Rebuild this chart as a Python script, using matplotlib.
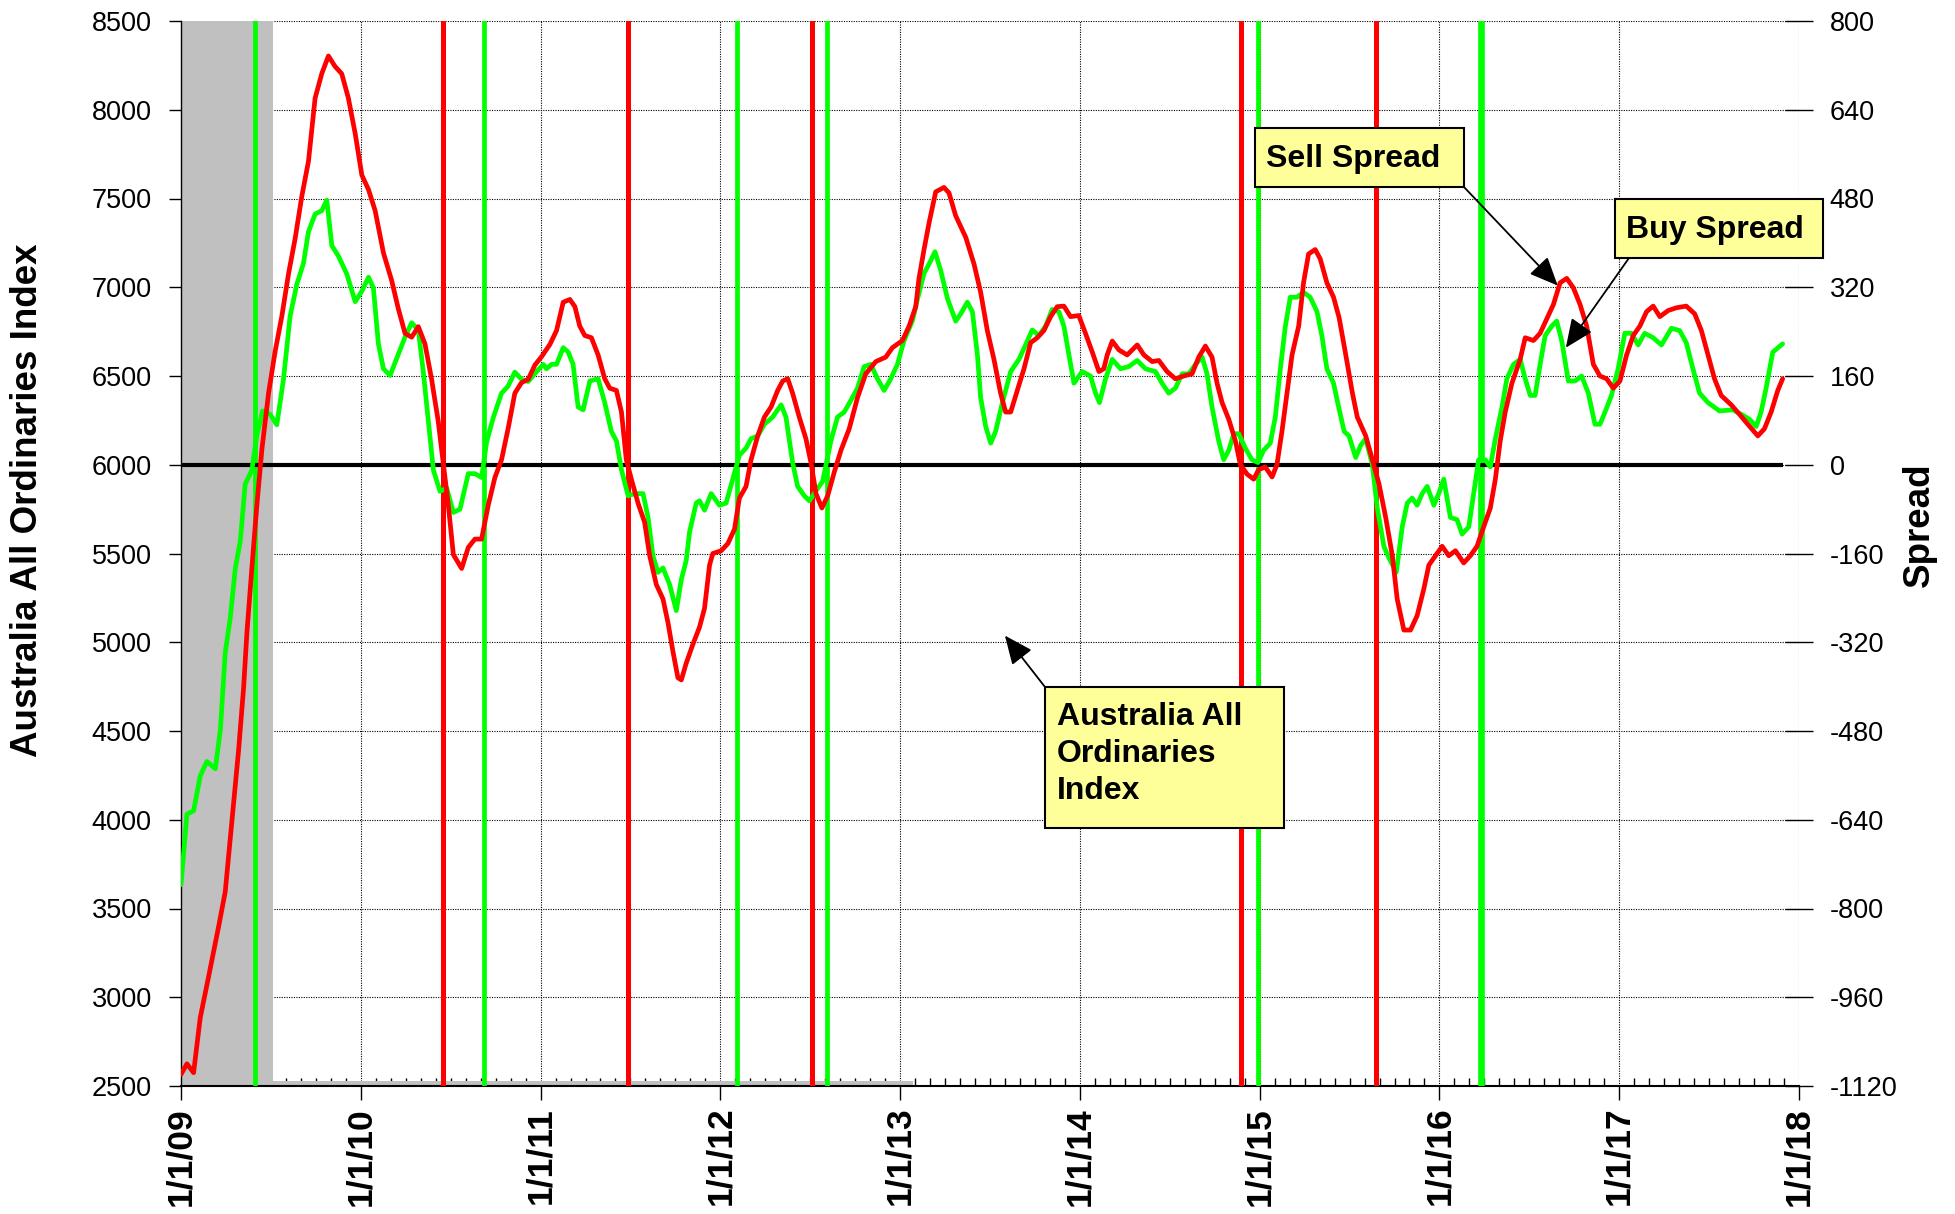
import matplotlib
matplotlib.use('Agg')
import matplotlib.pyplot as plt
from matplotlib.patches import Rectangle

plt.rcParams['font.family'] = ['Liberation Sans', 'DejaVu Sans']

# ---------------- data (x in years since 1/1/2009) ----------------
sell_t = [0.000, 0.033, 0.070, 0.107, 0.154, 0.209, 0.246, 0.283, 0.320, 0.348, 0.367, 0.394, 0.422, 0.450,
          0.487, 0.524, 0.561, 0.598, 0.635, 0.672, 0.709, 0.746, 0.783, 0.820, 0.857, 0.894, 0.931, 0.969,
          1.006, 1.043, 1.080, 1.126, 1.172, 1.209, 1.246, 1.283, 1.320, 1.357, 1.394, 1.431, 1.459, 1.487,
          1.515, 1.561, 1.598, 1.635, 1.672, 1.709, 1.746, 1.783, 1.820, 1.857, 1.894, 1.931, 1.969, 2.006,
          2.052, 2.089, 2.126, 2.163, 2.191, 2.218, 2.246, 2.283, 2.320, 2.357, 2.385, 2.422, 2.450, 2.477,
          2.505, 2.542, 2.579, 2.607, 2.644, 2.681, 2.709, 2.736, 2.764, 2.783, 2.810, 2.847, 2.884, 2.912,
          2.940, 2.958, 3.005, 3.042, 3.079, 3.106, 3.143, 3.171, 3.208, 3.245, 3.282, 3.319, 3.347, 3.375,
          3.402, 3.439, 3.476, 3.504, 3.532, 3.565, 3.597, 3.634, 3.671, 3.717, 3.763, 3.809, 3.865, 3.920,
          3.957, 4.013, 4.050, 4.087, 4.105, 4.133, 4.161, 4.198, 4.244, 4.272, 4.309, 4.365, 4.411, 4.448,
          4.485, 4.522, 4.559, 4.587, 4.615, 4.652, 4.689, 4.726, 4.763, 4.800, 4.837, 4.874, 4.911, 4.948,
          4.994, 5.031, 5.069, 5.106, 5.133, 5.152, 5.180, 5.217, 5.263, 5.319, 5.356, 5.402, 5.439, 5.485,
          5.531, 5.578, 5.624, 5.661, 5.698, 5.735, 5.763, 5.791, 5.828, 5.865, 5.893, 5.930, 5.967, 5.994,
          6.031, 6.069, 6.096, 6.124, 6.152, 6.180, 6.217, 6.244, 6.272, 6.309, 6.337, 6.374, 6.411, 6.442,
          6.479, 6.516, 6.543, 6.590, 6.627, 6.664, 6.701, 6.738, 6.765, 6.802, 6.839, 6.876, 6.913, 6.941,
          6.978, 7.015, 7.052, 7.089, 7.135, 7.172, 7.209, 7.246, 7.283, 7.311, 7.338, 7.366, 7.403, 7.449,
          7.477, 7.523, 7.560, 7.597, 7.634, 7.671, 7.708, 7.745, 7.782, 7.819, 7.856, 7.893, 7.930, 7.967,
          8.004, 8.041, 8.078, 8.115, 8.152, 8.189, 8.226, 8.272, 8.318, 8.373, 8.420, 8.457, 8.494, 8.530,
          8.567, 8.623, 8.669, 8.715, 8.771, 8.808, 8.845, 8.882, 8.909]
sell_spread = [-1099, -1080, -1096, -997, -922, -833, -770, -643, -516, -403, -301, -187, -73, 28,
               129, 205, 268, 344, 408, 484, 547, 661, 705, 737, 718, 705, 661, 597,
               522, 496, 458, 382, 332, 281, 237, 230, 249, 218, 154, 78, 3, -73,
               -162, -187, -149, -134, -134, -73, -23, 9, 66, 129, 148, 154, 180, 195,
               217, 242, 293, 298, 285, 250, 233, 229, 198, 155, 138, 134, 95, 9,
               -26, -69, -104, -164, -216, -242, -285, -336, -384, -388, -358, -324, -293, -259,
               -181, -160, -155, -142, -116, -60, -39, 9, 52, 86, 104, 134, 151, 155,
               129, 86, 47, 4, -52, -78, -56, -13, 26, 65, 121, 164, 186, 194,
               211, 224, 250, 285, 336, 388, 436, 492, 500, 490, 449, 410, 362, 311,
               242, 190, 129, 95, 95, 134, 173, 220, 229, 242, 267, 285, 286, 267,
               269, 237, 203, 168, 173, 198, 223, 207, 198, 216, 198, 186, 188, 168,
               155, 160, 164, 194, 214, 194, 147, 112, 82, 43, 0, -17, -26, -9,
               -4, -22, 0, 60, 129, 198, 250, 328, 380, 388, 371, 328, 302, 265,
               198, 129, 86, 52, 9, -35, -95, -164, -242, -298, -298, -272, -224, -181,
               -164, -147, -164, -155, -177, -164, -147, -112, -78, -26, 43, 95, 147, 190,
               229, 224, 237, 263, 289, 328, 336, 319, 289, 250, 181, 160, 155, 138,
               151, 198, 233, 250, 276, 286, 267, 278, 283, 286, 272, 242, 198, 155,
               125, 108, 91, 73, 52, 65, 95, 134, 155]

buy_t = [0.000, 0.033, 0.070, 0.107, 0.144, 0.191, 0.219, 0.246, 0.274, 0.302, 0.330, 0.357, 0.394, 0.422,
         0.454, 0.496, 0.533, 0.570, 0.607, 0.644, 0.681, 0.709, 0.746, 0.783, 0.811, 0.839, 0.876, 0.922,
         0.969, 1.006, 1.043, 1.070, 1.098, 1.126, 1.163, 1.200, 1.246, 1.283, 1.320, 1.348, 1.376, 1.404,
         1.441, 1.478, 1.515, 1.552, 1.598, 1.635, 1.672, 1.700, 1.737, 1.783, 1.820, 1.857, 1.894, 1.931,
         1.978, 2.015, 2.033, 2.061, 2.089, 2.126, 2.154, 2.181, 2.209, 2.237, 2.274, 2.320, 2.357, 2.394,
         2.422, 2.450, 2.487, 2.524, 2.570, 2.598, 2.625, 2.653, 2.681, 2.718, 2.755, 2.783, 2.810, 2.829,
         2.866, 2.884, 2.912, 2.949, 2.995, 3.032, 3.069, 3.106, 3.143, 3.171, 3.208, 3.245, 3.291, 3.338,
         3.365, 3.402, 3.430, 3.467, 3.495, 3.532, 3.569, 3.615, 3.652, 3.689, 3.726, 3.763, 3.800, 3.837,
         3.874, 3.911, 3.948, 3.985, 4.022, 4.068, 4.096, 4.133, 4.161, 4.194, 4.226, 4.263, 4.309, 4.337,
         4.374, 4.402, 4.430, 4.448, 4.476, 4.504, 4.531, 4.569, 4.615, 4.661, 4.698, 4.735, 4.772, 4.809,
         4.846, 4.883, 4.911, 4.939, 4.967, 5.013, 5.059, 5.087, 5.109, 5.143, 5.180, 5.226, 5.272, 5.319,
         5.365, 5.420, 5.457, 5.494, 5.531, 5.569, 5.606, 5.643, 5.680, 5.707, 5.735, 5.772, 5.800, 5.828,
         5.856, 5.883, 5.920, 5.957, 5.991, 6.022, 6.059, 6.087, 6.115, 6.143, 6.170, 6.207, 6.244, 6.281,
         6.319, 6.346, 6.374, 6.411, 6.442, 6.470, 6.497, 6.534, 6.562, 6.590, 6.627, 6.654, 6.691, 6.719,
         6.760, 6.793, 6.821, 6.848, 6.876, 6.904, 6.932, 6.969, 6.996, 7.024, 7.061, 7.098, 7.126, 7.163,
         7.190, 7.218, 7.255, 7.283, 7.311, 7.348, 7.375, 7.412, 7.449, 7.477, 7.505, 7.532, 7.560, 7.588,
         7.625, 7.652, 7.680, 7.717, 7.754, 7.791, 7.828, 7.865, 7.893, 7.921, 7.957, 7.994, 8.031, 8.068,
         8.105, 8.142, 8.189, 8.235, 8.290, 8.336, 8.373, 8.410, 8.447, 8.494, 8.558, 8.632, 8.678, 8.725,
         8.762, 8.789, 8.817, 8.854, 8.909]
buy_spread = [-757, -630, -624, -561, -535, -548, -478, -339, -276, -187, -137, -35, -10, 53,
              97, 91, 72, 154, 268, 325, 363, 420, 452, 458, 477, 395, 376, 344,
              294, 313, 338, 319, 218, 173, 161, 192, 230, 256, 243, 167, 78, -10,
              -48, -42, -86, -80, -16, -16, -23, 41, 85, 129, 142, 167, 154, 150,
              168, 181, 173, 181, 181, 211, 203, 181, 104, 99, 151, 155, 112, 60,
              43, -9, -56, -52, -52, -95, -164, -194, -186, -216, -263, -207, -173, -121,
              -69, -65, -82, -52, -73, -69, -26, 17, 30, 47, 52, 73, 86, 108,
              86, 4, -39, -56, -65, -47, -30, 43, 86, 95, 116, 138, 177, 181,
              155, 134, 155, 181, 224, 259, 298, 345, 362, 384, 350, 300, 259, 272,
              293, 276, 198, 121, 69, 39, 60, 112, 168, 190, 216, 243, 233, 250,
              280, 276, 250, 198, 147, 168, 160, 129, 112, 155, 190, 173, 177, 188,
              173, 168, 147, 129, 138, 164, 164, 181, 194, 164, 104, 43, 9, 26,
              56, 56, 30, 9, 4, 26, 39, 86, 173, 250, 302, 302, 311, 302,
              276, 233, 173, 147, 100, 60, 52, 13, 35, 47, 0, -78, -147, -168,
              -194, -112, -69, -60, -73, -52, -39, -73, -52, -26, -95, -99, -125, -112,
              -52, 9, 9, -4, 47, 104, 155, 181, 190, 155, 125, 125, 181, 233,
              250, 259, 224, 151, 151, 160, 129, 73, 73, 95, 125, 173, 237, 237,
              216, 237, 229, 216, 246, 242, 220, 173, 129, 112, 97, 99, 91, 82,
              69, 95, 138, 203, 218]

sell_signals = [1.456, 2.488, 3.512, 5.898, 6.645]
buy_signals = [0.413, 1.685, 3.090, 3.596, 5.991, 7.233]
buy_signal_widths = [3.4, 3.4, 3.4, 3.4, 3.4, 4.8]

# gray shaded area (left axis units)
shade_t = [0.0, 0.514, 4.07]
shade_level = [8600, 2528, 2528]

year_labels = ['1/1/09', '1/1/10', '1/1/11', '1/1/12', '1/1/13', '1/1/14', '1/1/15', '1/1/16', '1/1/17', '1/1/18']
index_ticks = list(range(2500, 8501, 500))
spread_ticks = list(range(-1120, 801, 160))

BASE = 2009.0
RED = '#FF0000'
GREEN = '#00FF00'

# ---------------- figure ----------------
W, H = 1955, 1214
fig = plt.figure(figsize=(W / 100, H / 100), dpi=100)
L, R, T, B = 181, 1799, 21, 1086
ax = fig.add_axes([L / W, 1 - B / H, (R - L) / W, (B - T) / H])
ax2 = ax.twinx()

ax.set_xlim(BASE, BASE + 9)
ax.set_ylim(2500, 8500)
ax2.set_ylim(-1120, 800)

# grid
ax.set_axisbelow(True)
ax.grid(True, which='major', color='black', linestyle=(0, (1, 1.2)), linewidth=0.8)

# shaded area
ax.fill_between([BASE + t for t in shade_t], 2500, shade_level, step='post',
                color='#C0C0C0', linewidth=0, zorder=1)

# x ticks
ax.set_xticks([BASE + i for i in range(10)])
ax.set_xticklabels(year_labels, rotation=90, fontsize=25.5, fontweight='bold', va='top', ha='center')
minor = [BASE + y + m / 12 for y in range(9) for m in range(1, 12)]
ax.set_xticks(minor, minor=True)
ax.tick_params(axis='x', which='major', direction='out', length=10, width=1, pad=5)
ax.tick_params(axis='x', which='minor', direction='in', length=6, width=1)

# left y
ax.set_yticks(index_ticks)
ax.set_yticklabels([str(v) for v in index_ticks], fontsize=19.5)
ax.tick_params(axis='y', which='major', direction='out', length=9, width=1, pad=12)

# right y
ax2.set_yticks(spread_ticks)
ax2.set_yticklabels([str(v) for v in spread_ticks], fontsize=19.5)
ax2.tick_params(axis='y', which='major', direction='inout', length=20, width=1, pad=12)

for s in ['top', 'right']:
    ax.spines[s].set_visible(False)
for s in ['top', 'right', 'left', 'bottom']:
    ax2.spines[s].set_visible(False)
ax.spines['left'].set_linewidth(1.0)
ax.spines['bottom'].set_linewidth(1.5)

ax.set_ylabel('Australia All Ordinaries Index', fontsize=26.5, fontweight='bold', va='center', ha='center')
ax.yaxis.set_label_coords(-0.0946, 0.550)
ax2.set_ylabel('Spread', fontsize=26.5, fontweight='bold', va='center', ha='center', rotation=90)
ax2.yaxis.set_label_coords(1.0745, 0.527)

# signal lines
for t in sell_signals:
    ax2.axvline(BASE + t, color=RED, linewidth=3.6, zorder=2)
for t, w in zip(buy_signals, buy_signal_widths):
    ax2.axvline(BASE + t, color=GREEN, linewidth=w, zorder=2)

# zero line
ax2.hlines(0, BASE + sell_t[0], BASE + sell_t[-1], color='black', linewidth=3.0, zorder=3)

# spread series
ax2.plot([BASE + t for t in buy_t], buy_spread, color=GREEN, linewidth=3.4, zorder=4,
         solid_joinstyle='round', solid_capstyle='round')
ax2.plot([BASE + t for t in sell_t], sell_spread, color=RED, linewidth=3.4, zorder=5,
         solid_joinstyle='round', solid_capstyle='round')

# ---------------- callouts ----------------
def box(x0, y0, x1, y1):
    fig.add_artist(Rectangle((x0 / W, 1 - y1 / H), (x1 - x0) / W, (y1 - y0) / H,
                             transform=fig.transFigure, facecolor='#FFFF99',
                             edgecolor='black', linewidth=1.5, zorder=20))

def label(x, y_base, s):
    fig.text(x / W, 1 - y_base / H, s, fontsize=23, fontweight='bold', ha='left',
             va='baseline', zorder=21)

arrow_kw = dict(arrowstyle='-|>,head_length=0.8,head_width=0.35', color='black', lw=1.3,
                shrinkA=0, shrinkB=0, mutation_scale=22)

# Sell Spread
ax2.annotate('', xy=(BASE + 7.658, 323), xycoords='data', xytext=(1463, H - 186),
             textcoords='figure pixels', arrowprops=arrow_kw, annotation_clip=False, zorder=19)
box(1255, 128, 1464, 187)
label(1266, 167, 'Sell Spread')

# Buy Spread
ax2.annotate('', xy=(BASE + 7.703, 211), xycoords='data', xytext=(1629, H - 258),
             textcoords='figure pixels', arrowprops=arrow_kw, annotation_clip=False, zorder=19)
box(1615, 199, 1823, 258)
label(1626, 238, 'Buy Spread')

# Index
ax2.annotate('', xy=(BASE + 4.583, -308), xycoords='data', xytext=(1045, H - 687),
             textcoords='figure pixels', arrowprops=arrow_kw, annotation_clip=False, zorder=19)
box(1045, 687, 1284, 828)
label(1057, 725, 'Australia All')
label(1057, 762, 'Ordinaries')
label(1057, 799, 'Index')

fig.savefig('out.png', dpi=100)
